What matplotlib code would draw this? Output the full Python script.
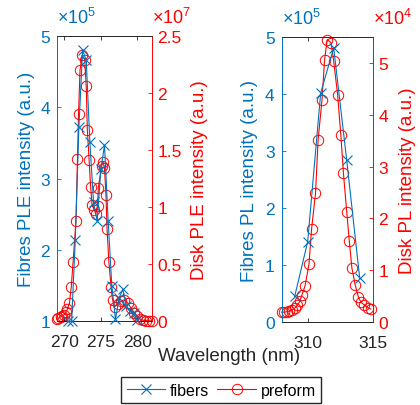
import matplotlib.pyplot as plt

plt.rcParams['font.family'] = ['Liberation Sans', 'DejaVu Sans']
plt.rcParams['mathtext.fontset'] = 'custom'
plt.rcParams['mathtext.rm'] = 'Liberation Sans'

BLUE = '#0072BD'
RED = '#FF0000'
GREY = '#262626'

# PLE, left panel (fibres in a.u., preform in a.u.)
ple_fib_wl = [270.5, 271.0, 271.5, 272.0, 272.5, 273.0, 273.5, 274.0, 274.5, 275.0,
              275.5, 276.0, 276.5, 277.0, 277.5, 278.0, 278.5, 279.0, 279.5, 280.0]
ple_fib = [1.0e5, 1.0e5, 2.14e5, 3.73e5, 4.80e5, 4.66e5, 3.51e5, 2.67e5, 2.41e5, 3.13e5,
           3.47e5, 2.41e5, 1.50e5, 1.03e5, 1.33e5, 1.45e5, 1.21e5, 1.14e5, 1.12e5, 1.02e5]

ple_pre_wl = [269.0, 269.2, 269.5, 269.7, 270.0, 270.2, 270.4, 270.7, 270.95, 271.2,
              271.6, 271.8, 271.95, 272.15, 272.45, 272.8, 273.0, 273.15, 273.4, 273.6,
              273.8, 274.1, 274.3, 274.55, 274.65, 275.1, 275.3, 275.5, 275.7, 275.85,
              276.1, 276.4, 276.6, 276.9, 277.3, 277.8, 278.2, 278.7, 279.1, 279.6,
              280.0, 280.4, 280.8, 281.2, 281.6, 282.0]
ple_pre = [0.02e7, 0.03e7, 0.04e7, 0.05e7, 0.06e7, 0.08e7, 0.105e7, 0.16e7, 0.30e7, 0.52e7,
           0.88e7, 1.42e7, 1.82e7, 2.20e7, 2.33e7, 2.29e7, 2.06e7, 1.68e7, 1.41e7, 1.18e7,
           1.02e7, 0.98e7, 0.94e7, 1.01e7, 1.17e7, 1.36e7, 1.40e7, 1.34e7, 1.11e7, 0.81e7,
           0.52e7, 0.30e7, 0.19e7, 0.13e7, 0.15e7, 0.18e7, 0.19e7, 0.16e7, 0.12e7, 0.076e7,
           0.046e7, 0.018e7, 0.01e7, 0.008e7, 0.006e7, 0.005e7]

# PL, right panel
pl_fib_wl = [309, 310, 311, 312, 313, 314]
pl_fib = [0.45e5, 1.41e5, 4.02e5, 4.81e5, 2.84e5, 0.77e5]

pl_pre_wl = [308.0, 308.2, 308.4, 308.6, 308.8, 309.0, 309.2, 309.4, 309.55, 309.8,
             310.1, 310.3, 310.6, 310.8, 311.1, 311.3, 311.5, 311.8, 312.0, 312.3,
             312.55, 312.75, 313.0, 313.2, 313.4, 313.65, 313.9, 314.1, 314.35, 314.6,
             314.85]
pl_pre = [0.19e4, 0.19e4, 0.20e4, 0.21e4, 0.23e4, 0.27e4, 0.32e4, 0.40e4, 0.52e4, 0.70e4,
          1.12e4, 1.80e4, 2.48e4, 3.51e4, 4.29e4, 5.06e4, 5.45e4, 5.39e4, 5.03e4, 4.39e4,
          3.60e4, 2.87e4, 2.13e4, 1.56e4, 1.04e4, 0.72e4, 0.48e4, 0.38e4, 0.33e4, 0.28e4,
          0.25e4]


def panel(pos, fx, fy, fscale, px, py, pscale, xlim, xticks, ylim1, yt1, ylim2, yt2, yt2lab,
          lab1, lab2, exp1, exp2, labx1, labx2):
    ax = fig.add_axes(pos)
    ax2 = ax.twinx()
    ax.plot(fx, [v / fscale for v in fy], '-x', color=BLUE, lw=0.8, ms=7, mew=0.8,
            clip_on=False, zorder=3, label='fibers')
    ax2.plot(px, [v / pscale for v in py], '-o', color=RED, lw=0.8, ms=7.5, mew=0.7,
             mfc='none', clip_on=False, label='preform')
    ax.set_xlim(*xlim)
    ax.set_xticks(xticks)
    ax.set_ylim(*ylim1)
    ax.set_yticks(yt1)
    ax2.set_ylim(*ylim2)
    ax2.set_yticks(yt2)
    ax2.set_yticklabels(yt2lab)
    ax.set_zorder(ax2.get_zorder() + 1)
    ax.patch.set_visible(False)
    for a in (ax, ax2):
        a.spines['top'].set_color(GREY)
        a.spines['bottom'].set_color(GREY)
        a.spines['left'].set_color(BLUE)
        a.spines['right'].set_color(RED)
        for s in a.spines.values():
            s.set_linewidth(0.6)
    ax.tick_params(axis='x', direction='in', top=True, length=3, width=0.6,
                   colors=GREY, labelsize=12.5, pad=9)
    ax.tick_params(axis='y', direction='in', length=3, width=0.6, colors=BLUE,
                   labelsize=12.5, pad=5)
    ax2.tick_params(axis='y', direction='in', length=3, width=0.6, colors=RED,
                    labelsize=12.5, pad=4)
    ax.set_ylabel(lab1, color=BLUE, fontsize=13.5)
    ax2.set_ylabel(lab2, color=RED, fontsize=13.5)
    ax.yaxis.set_label_coords(labx1, 0.5)
    ax2.yaxis.set_label_coords(labx2, 0.5)
    ax.yaxis.label.set_va('center')
    ax2.yaxis.label.set_va('center')
    ax.text(0.0, 1.03, exp1, transform=ax.transAxes, color=BLUE, fontsize=13,
            ha='left', va='bottom')
    ax.text(1.0, 1.03, exp2, transform=ax.transAxes, color=RED, fontsize=13,
            ha='left', va='bottom')
    return ax, ax2


fig = plt.figure(figsize=(4.2, 4.06), dpi=100)

a1, b1 = panel([0.1357, 0.2057, 0.2262, 0.7032], ple_fib_wl, ple_fib, 1e5,
               ple_pre_wl, ple_pre, 1e7, (269, 282), [270, 275, 280],
               (1, 5), [1, 2, 3, 4, 5], (0, 2.5), [0, 0.5, 1, 1.5, 2, 2.5],
               ['0', '0.5', '1', '1.5', '2', '2.5'],
               'Fibres PLE intensity (a.u.)', 'Disk PLE intensity (a.u.)',
               r'$\mathregular{\times10^5}$', r'$\mathregular{\times10^7}$',
               -0.326, 1.505)

a2, b2 = panel([0.6707, 0.2044, 0.2167, 0.7020], pl_fib_wl, pl_fib, 1e5,
               pl_pre_wl, pl_pre, 1e4, (308, 315), [310, 315],
               (0, 5), [0, 1, 2, 3, 4, 5], (0, 5.5), [0, 1, 2, 3, 4, 5],
               ['0', '1', '2', '3', '4', '5'],
               'Fibres PL intensity (a.u.)', 'Disk PL intensity (a.u.)',
               r'$\mathregular{\times10^5}$', r'$\mathregular{\times10^4}$',
               -0.359, 1.377)

fig.text(0.545, 0.122, 'Wavelength (nm)', ha='center', va='center', fontsize=13.5,
         color=GREY)

h1, l1 = a1.get_legend_handles_labels()
h2, l2 = b1.get_legend_handles_labels()
fig.legend(h1 + h2, l1 + l2, loc='upper center', bbox_to_anchor=(0.527, 1 - 378 / 406),
           ncol=2, fontsize=11.5, frameon=True, fancybox=False, edgecolor=GREY,
           handlelength=2.4, handletextpad=0.3, columnspacing=0.5, borderpad=0.35,
           borderaxespad=0, framealpha=1)

fig.savefig('out.png', dpi=100)
